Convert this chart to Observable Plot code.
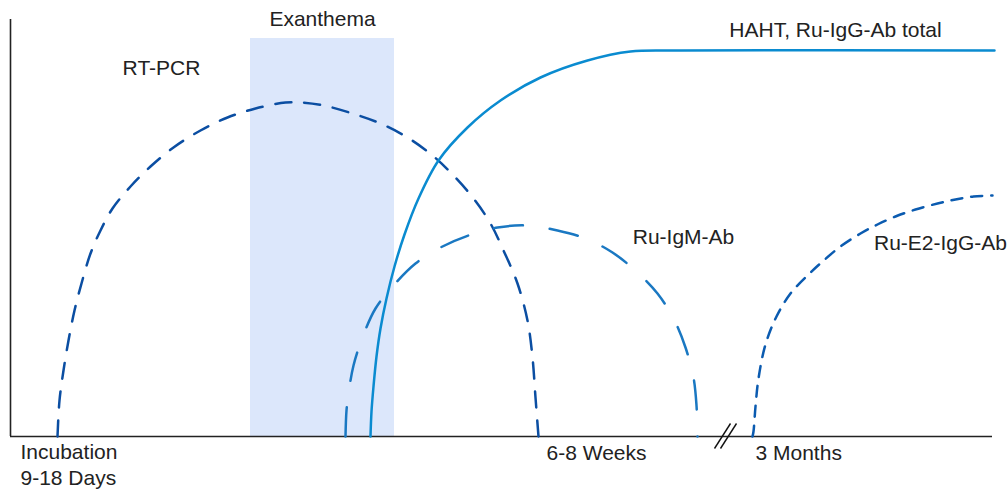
<!DOCTYPE html>
<html>
<head>
<meta charset="utf-8">
<script src="https://cdn.jsdelivr.net/npm/d3@7"></script>
<script src="https://cdn.jsdelivr.net/npm/@observablehq/plot@0.6"></script>
<style>
  html, body { margin: 0; padding: 0; background: #fff; }
  #chart svg { display: block; }
</style>
</head>
<body>
<div id="chart"></div>
<script>
// Time axis (arbitrary schematic units) and response level (arbitrary units)
const rtpcrTime  = [57, 59, 63, 68, 74, 81, 90, 100, 112, 130, 150, 173, 200, 227, 255, 285, 300, 323, 352, 380, 407, 432, 453, 473, 490, 503, 517, 527, 532, 535, 538];
const rtpcrLevel = [0, 36, 66, 96, 126, 153, 183, 206, 228, 250, 270, 289, 306, 319, 328, 334, 334, 331, 323, 313, 299, 281, 261, 238, 213, 186, 153, 116, 79, 39, 0];

const igmTime  = [345, 346, 348, 353, 362, 375, 393, 415, 440, 468, 497, 527, 557, 585, 612, 637, 657, 673, 685, 693, 696, 697];
const igmLevel = [0, 26, 43, 71, 99, 128, 151, 173, 189, 201, 209, 211, 206, 198, 184, 164, 143, 118, 89, 59, 31, 0];

const hahtTime  = [370, 371, 373, 376, 380, 386, 394, 404, 418, 438, 467, 500, 540, 587, 630, 680, 994];
const hahtLevel = [0, 25, 50, 80, 108, 138, 170, 202, 238, 276, 309, 336, 359, 376, 385, 386, 386];

const e2Time  = [752, 753, 755, 758, 765, 776, 790, 808, 822, 840, 860, 877, 895, 915, 937, 955, 973, 992];
const e2Level = [0, 5, 30, 58, 92, 120, 143, 162, 175, 190, 203, 212, 220, 227, 233, 237, 240, 241];

const exanthemaStart = 250, exanthemaEnd = 394, exanthemaTop = 398;
const axisStart = 10, axisEnd = 992, axisTop = 417;
const breakAt = 725;

const tickLabels = [
  {label: "Incubation", t: 20, v: -16},
  {label: "9-18 Days", t: 20, v: -42},
  {label: "6-8 Weeks", t: 546, v: -17},
  {label: "3 Months", t: 755, v: -17}
];
const seriesLabels = [
  {label: "Exanthema", t: 322, v: 417},
  {label: "RT-PCR", t: 161, v: 368},
  {label: "HAHT, Ru-IgG-Ab total", t: 835, v: 406},
  {label: "Ru-IgM-Ab", t: 683, v: 199},
  {label: "Ru-E2-IgG-Ab", t: 940, v: 193}
];

const toRows = (ts, vs) => ts.map((t, i) => ({t, v: vs[i]}));
const font = "Liberation Sans, Arial, Helvetica, sans-serif";

const chart = Plot.plot({
  width: 1008,
  height: 491,
  marginTop: 0,
  marginBottom: 55,
  marginLeft: 0,
  marginRight: 0,
  x: {domain: [0, 1008], axis: null},
  y: {domain: [0, 436], axis: null},
  style: {fontFamily: font, background: "#fff", overflow: "visible"},
  marks: [
    Plot.rect([{}], {x1: exanthemaStart, x2: exanthemaEnd, y1: 0, y2: exanthemaTop, fill: "#dce7fb"}),
    Plot.ruleX([axisStart], {y1: 0, y2: axisTop, stroke: "#222", strokeWidth: 1.6}),
    Plot.ruleY([0], {x1: axisStart, x2: axisEnd, stroke: "#222", strokeWidth: 1.6}),
    Plot.line(toRows(rtpcrTime, rtpcrLevel), {x: "t", y: "v", curve: "catmull-rom", stroke: "#0b4ea2", strokeWidth: 2.5, strokeDasharray: "16 13"}),
    Plot.line(toRows(igmTime, igmLevel), {x: "t", y: "v", curve: "catmull-rom", stroke: "#1a78c2", strokeWidth: 2.5, strokeDasharray: "29 27"}),
    Plot.line(toRows(hahtTime, hahtLevel), {x: "t", y: "v", curve: "catmull-rom", stroke: "#0a8bd0", strokeWidth: 2.5}),
    Plot.line(toRows(e2Time, e2Level), {x: "t", y: "v", curve: "catmull-rom", stroke: "#0b5bb0", strokeWidth: 2.5, strokeDasharray: "11 9"}),
    Plot.link([0, 6], {x1: d => breakAt - 11 + d, x2: d => breakAt + 5 + d, y1: -12, y2: 13, stroke: "#111", strokeWidth: 1.4}),
    Plot.text(tickLabels, {x: "t", y: "v", text: "label", textAnchor: "start", fontSize: 21, fill: "#222"}),
    Plot.text(seriesLabels, {x: "t", y: "v", text: "label", textAnchor: "middle", fontSize: 21, fill: "#222"})
  ]
});
document.getElementById("chart").appendChild(chart);
</script>
</body>
</html>
